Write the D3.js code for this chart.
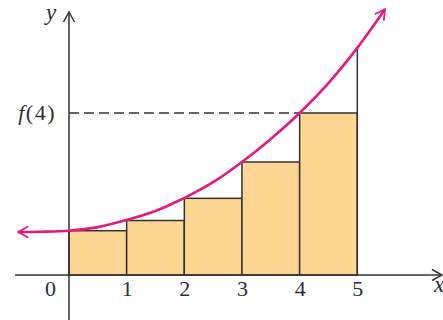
<!DOCTYPE html>
<html><head><meta charset="utf-8">
<script src="https://cdn.jsdelivr.net/npm/d3@7"></script>
<style>body{margin:0;background:#fff}svg{display:block}</style>
</head><body>
<script>
// Data
const barX = [0, 1, 2, 3, 4];            // left endpoints
const barHeights = [0.768, 0.945, 1.33, 1.96, 2.81]; // f at left endpoints
const f5 = 3.94;                          // f(5), right edge line
const curveX = [-0.88, -0.5, 0, 0.5, 1, 1.5, 2, 2.5, 3, 3.5, 4, 4.5, 5, 5.48];
const curveY = [0.745, 0.75, 0.768, 0.83, 0.955, 1.11, 1.335, 1.61, 1.96, 2.36, 2.81, 3.33, 3.94, 4.61];
const xTicks = [0, 1, 2, 3, 4, 5];
const xTickLabels = ["0", "1", "2", "3", "4", "5"];

const W = 443, H = 320;
const svg = d3.select("body").append("svg").attr("width", W).attr("height", H);
const x = d3.scaleLinear().domain([0, 5]).range([69, 357.3]);
const y = d3.scaleLinear().domain([0, 4.77]).range([275, 0]);
const ink = "#333";
const txt = "#2b2b3a";
const pink = "#e5197e";
const font = "'Liberation Serif', 'Times New Roman', serif";

const defs = svg.append("defs");
function marker(id, color, w) {
  defs.append("marker").attr("id", id).attr("viewBox", "-12 -7 14 14")
    .attr("refX", 0).attr("refY", 0).attr("markerWidth", 14).attr("markerHeight", 14)
    .attr("markerUnits", "userSpaceOnUse").attr("orient", "auto")
    .append("path").attr("d", "M-10,-5.5 L0,0 L-10,5.5").attr("fill", "none")
    .attr("stroke", color).attr("stroke-width", w).attr("stroke-linejoin", "miter");
}
marker("arrPink", pink, 1.8);
marker("arrInk", ink, 1.5);

// bars
svg.append("g").selectAll("rect").data(barX).join("rect")
  .attr("x", d => x(d)).attr("width", d => x(d + 1) - x(d))
  .attr("y", (d, i) => y(barHeights[i])).attr("height", (d, i) => y(0) - y(barHeights[i]))
  .attr("fill", "#fdd694").attr("stroke", ink).attr("stroke-width", 1.5);

// right edge line at x=5 up to f(5)
svg.append("line").attr("x1", x(5)).attr("x2", x(5)).attr("y1", y(0)).attr("y2", y(f5))
  .attr("stroke", ink).attr("stroke-width", 1.5);

// dashed f(4)
svg.append("line").attr("x1", x(0)).attr("x2", x(4)).attr("y1", y(barHeights[4])).attr("y2", y(barHeights[4]))
  .attr("stroke", ink).attr("stroke-width", 1.4).attr("stroke-dasharray", "10,5");

// axes
svg.append("line").attr("x1", 15).attr("x2", 442).attr("y1", y(0)).attr("y2", y(0))
  .attr("stroke", ink).attr("stroke-width", 1.5).attr("marker-end", "url(#arrInk)");
svg.append("line").attr("x1", x(0)).attr("x2", x(0)).attr("y1", H).attr("y2", 12)
  .attr("stroke", ink).attr("stroke-width", 1.5).attr("marker-end", "url(#arrInk)");

// tick labels via d3 axis
const ax = svg.append("g").attr("transform", `translate(0,${y(0)})`)
  .call(d3.axisBottom(x).tickValues(xTicks).tickSize(0)
    .tickFormat((d, i) => xTickLabels[i]));
ax.select(".domain").remove();
ax.selectAll("text").attr("font-family", font).attr("font-size", 22)
  .attr("fill", txt).attr("y", 21).attr("dy", 0).attr("dx", d => d === 0 ? -19 : 0);

// curve
const pts = curveX.map((d, i) => [d, curveY[i]]);
const line = d3.line().x(d => x(d[0])).y(d => y(d[1])).curve(d3.curveCatmullRom);
// draw as two halves so each end gets an arrow
const mid = 6;
svg.append("path").attr("d", line(pts.slice(0, mid + 1).reverse()))
  .attr("fill", "none").attr("stroke", pink).attr("stroke-width", 2.6).attr("marker-end", "url(#arrPink)");
svg.append("path").attr("d", line(pts.slice(mid)))
  .attr("fill", "none").attr("stroke", pink).attr("stroke-width", 2.6).attr("marker-end", "url(#arrPink)");

// labels
const lab = svg.append("g").attr("font-family", font).attr("fill", txt);
lab.append("text").attr("x", 51).attr("y", 20).attr("text-anchor", "middle")
  .attr("font-style", "italic").attr("font-size", 23).text("y");
lab.append("text").attr("x", 439).attr("y", 292).attr("text-anchor", "middle")
  .attr("font-style", "italic").attr("font-size", 23).text("x");
const ft = lab.append("text").attr("x", 56).attr("y", y(barHeights[4]) + 7).attr("text-anchor", "end")
  .attr("font-size", 22).attr("letter-spacing", 1.5);
ft.append("tspan").attr("font-style", "italic").text("f");
ft.append("tspan").text("(4)");
</script>
</body></html>
